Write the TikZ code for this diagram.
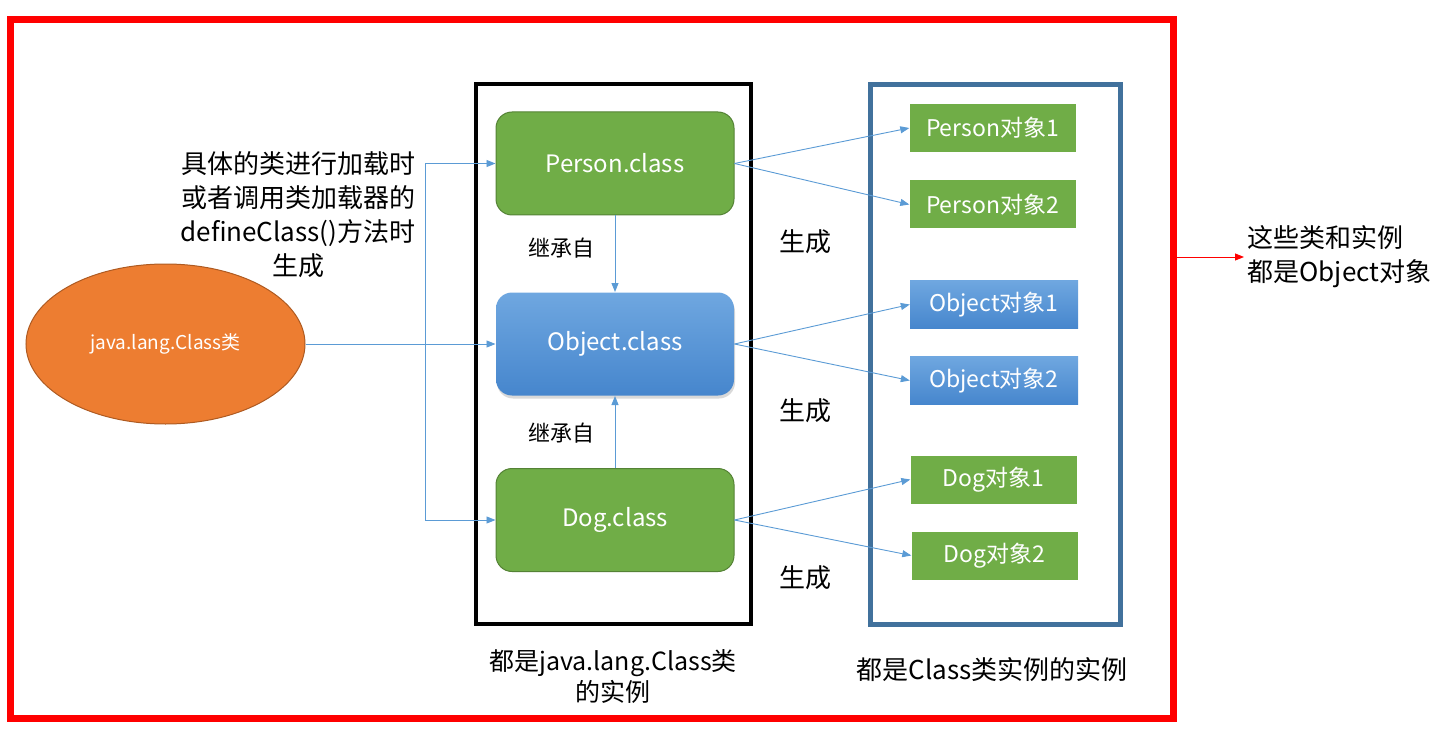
\documentclass[tikz,border=0pt]{standalone}
\usepackage{fontspec}
\setmainfont{Noto Sans CJK SC}
\usetikzlibrary{arrows.meta,shapes.geometric,shadows}
\definecolor{leafgreen}{HTML}{70AD47}
\definecolor{leafdark}{HTML}{548235}
\definecolor{linkblue}{HTML}{5B9BD5}
\definecolor{skytop}{HTML}{6FA7E0}
\definecolor{skybottom}{HTML}{4686CD}
\definecolor{steelframe}{HTML}{41719C}
\definecolor{orangefill}{HTML}{ED7D31}
\definecolor{orangedark}{HTML}{AE5A21}
\begin{document}
\begin{tikzpicture}[x=1pt,y=-1pt,
  arr/.style={draw=linkblue, line width=0.9pt, -{Triangle[length=9pt,width=7pt]}},
  classbox/.style={rectangle, rounded corners=16pt, minimum width=238pt, minimum height=103pt,
    text=white, font=\fontsize{24}{28}\selectfont, line width=1pt},
  greenclass/.style={classbox, fill=leafgreen, draw=leafdark},
  blueclass/.style={classbox, top color=skytop, bottom color=skybottom,
    drop shadow={opacity=0.3, shadow xshift=1pt, shadow yshift=-3pt}},
  objbox/.style={rectangle, minimum width=166pt, minimum height=48pt, inner sep=0pt,
    text=white, font=\fontsize{23}{27}\selectfont},
  greenobj/.style={objbox, fill=leafgreen},
  blueobj/.style={objbox, minimum width=168pt, top color=skytop, bottom color=skybottom},
  note/.style={align=center, font=\fontsize{26}{34}\selectfont},
  smallnote/.style={font=\fontsize{22}{26}\selectfont}]
\useasboundingbox (0,0) rectangle (1435,738);
\node[draw=red, line width=7pt, minimum width=1163pt, minimum height=699pt, inner sep=0pt] (outer) at (592,369) {};
\node[draw=black, line width=4pt, minimum width=275pt, minimum height=540pt, inner sep=0pt] (classframe) at (613.5,354) {};
\node[draw=steelframe, line width=5pt, minimum width=250pt, minimum height=539pt, inner sep=0pt] (instframe) at (995,354.5) {};

\node[greenclass] (person) at (615,163.5) {Person.class};
\node[blueclass] (object) at (615,344) {Object.class};
\node[greenclass] (dog) at (615,520) {Dog.class};
\node[ellipse, fill=orangefill, draw=orangedark, line width=1pt, minimum width=279pt, minimum height=160pt,
  text=white, font=\fontsize{19}{22}\selectfont] (jclass) at (165.5,344) {java.lang.Class类};

\node[greenobj] (person1) at (992.5,128) {Person对象1};
\node[greenobj] (person2) at (992.5,204.5) {Person对象2};
\node[blueobj] (object1) at (994,304.5) {Object对象1};
\node[blueobj] (object2) at (994,380.5) {Object对象2};
\node[greenobj] (dog1) at (993.5,479.5) {Dog对象1};
\node[greenobj] (dog2) at (994.5,555.5) {Dog对象2};

\node[note] (loadnote) at (298,215) {具体的类进行加载时\\或者调用类加载器的\\defineClass()方法时\\生成};
\node[smallnote] (inherit1) at (561,248) {继承自};
\node[smallnote] (inherit2) at (561,433) {继承自};
\node[note] (gen1) at (805,242) {生成};
\node[note] (gen2) at (805,411) {生成};
\node[note] (gen3) at (805,578) {生成};
\node[note, font=\fontsize{25}{31}\selectfont] (classnote) at (613,677) {都是java.lang.Class类\\的实例};
\node[note] (instnote) at (992,670) {都是Class类实例的实例};
\node[note, align=left, anchor=west] (objnote) at (1244,257) {这些类和实例\\都是Object对象};

\coordinate (split) at (425,344);
\draw[arr] (split) |- (person.west);
\draw[arr] (split) |- (dog.west);
\draw[arr] (jclass.east) -- (object.west);
\draw[arr] (person.south) -- (object.north);
\draw[arr] (dog.north) -- (object.south);
\draw[arr] (person.east) -- (person1.west);
\draw[arr] (person.east) -- (person2.west);
\draw[arr] (object.east) -- (object1.west);
\draw[arr] (object.east) -- (object2.west);
\draw[arr] (dog.east) -- (dog1.west);
\draw[arr] (dog.east) -- (dog2.west);
\draw[red, line width=0.9pt, -{Triangle[length=9pt,width=7pt]}] (outer.east |- objnote.west) -- (objnote.west);
\end{tikzpicture}
\end{document}
